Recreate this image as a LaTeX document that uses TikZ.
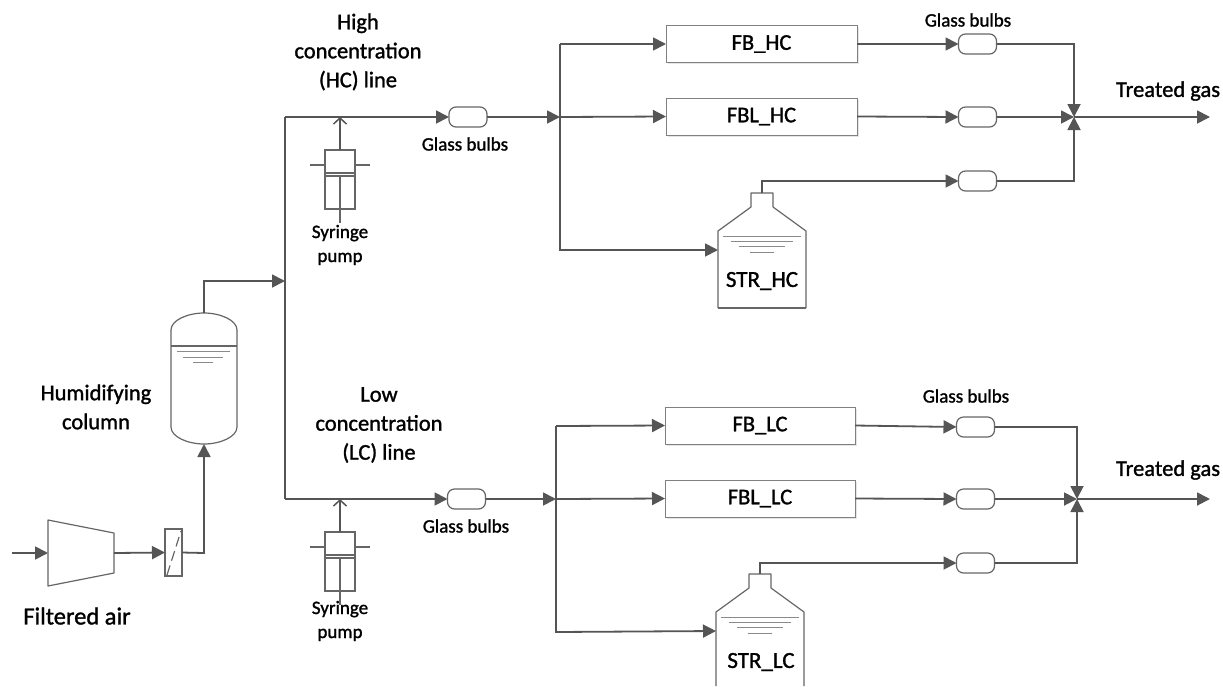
\documentclass[tikz,border=0pt]{standalone}
\usepackage{fontspec}
\setmainfont{Carlito}
\usetikzlibrary{arrows.meta,shadows,calc}
\definecolor{linec}{HTML}{555555}
\definecolor{shapec}{HTML}{666666}
\definecolor{boxc}{HTML}{808080}
\definecolor{liqc}{HTML}{8A8A8A}
\newfontfamily\labelfont[FakeBold=1.3]{Carlito}
\tikzset{
  flow/.style={draw=linec,line width=1.8pt,-{Stealth[inset=0pt,length=13pt,width=13pt]}},
  plainflow/.style={draw=linec,line width=1.8pt},
  vesselline/.style={draw=shapec,line width=1.2pt},
  liquid/.style={draw=liqc,line width=1pt},
  bulb/.style={draw=shapec,line width=1.2pt,fill=white,rounded corners=7pt,minimum width=38pt,minimum height=20pt,inner sep=0pt,outer sep=0pt},
  reactor/.style={draw=boxc,line width=1pt,fill=white,minimum width=191pt,minimum height=37pt,inner sep=0pt,outer sep=0pt,font=\labelfont\fontsize{22.5}{26}\selectfont,
    drop shadow={shadow xshift=1.5pt,shadow yshift=-1.5pt,opacity=.2}},
  big/.style={align=center,font=\labelfont\fontsize{22.5}{29}\selectfont,inner sep=0pt},
  small/.style={align=center,font=\labelfont\fontsize{19}{24}\selectfont,inner sep=0pt},
  sybody/.style={draw=shapec,line width=1.2pt,minimum width=30pt,minimum height=59pt,inner sep=0pt,outer sep=0pt},
  filterbox/.style={draw=shapec,line width=1.2pt,fill=white,minimum width=17pt,minimum height=47pt,inner sep=0pt,outer sep=0pt},
}
% name, centre x, top y of syringe body, y of line
\newcommand{\sypump}[3]{%
  \node[sybody] (#1) at (#2,{#3+29.5}) {};
  \draw[vesselline] ({#2-30},{#3+15}) -- ({#2-15},{#3+15});
  \draw[vesselline] ({#2+15},{#3+15}) -- ({#2+30},{#3+15});
  \draw[vesselline] ({#2-15},{#3+23}) -- ({#2+15},{#3+23});
  \draw[vesselline] ({#2-15},{#3+26}) -- ({#2+15},{#3+26});
  \draw[vesselline] (#2,{#3+26}) -- (#2,{#3+73});
}
% name, centre x, neck top y, bottom y
\newcommand{\vessel}[4]{%
  \draw[vesselline,line join=round] ({#2-44},#4) -- ({#2-44},{#3+38}) -- ({#2-11},{#3+14}) -- ({#2-11},#3) -- ({#2+11},#3) -- ({#2+11},{#3+14}) -- ({#2+44},{#3+38}) -- ({#2+44},#4);
  \draw[liquid] ({#2-39},{#3+43}) -- ({#2+39},{#3+43});
  \draw[liquid] ({#2-31},{#3+48}) -- ({#2+31},{#3+48});
  \draw[liquid] ({#2-23},{#3+53}) -- ({#2+23},{#3+53});
  \draw[liquid] ({#2-12},{#3+59}) -- ({#2+12},{#3+59});
  \coordinate (#1top) at (#2,#3);
  \coordinate (#1in) at ({#2-44},{#3+57});
}
\begin{document}
\begin{tikzpicture}[x=1pt,y=-1pt]
\useasboundingbox (0,0) rectangle (1223,686);
\fill[white] (0,0) rectangle (1223,686);

% ---- inlet: compressor, filter, column
\coordinate (airin) at (12,553);
\coordinate (compin) at (48,553);
\coordinate (compout) at (114,553);
\draw[vesselline,line join=round] (48,520) -- (114,533) -- (114,573) -- (48,586) -- cycle;
\node[filterbox] (filter) at (173.5,552.5) {};
\draw[vesselline,dash pattern=on 10pt off 5pt] (167,575) -- (181,531);
\draw[vesselline] (171,330) .. controls (171,320) and (188,313) .. (204,313) .. controls (220,313) and (237,320) .. (237,330) -- (237,427) .. controls (237,437) and (220,444) .. (204,444) .. controls (188,444) and (171,437) .. (171,427) -- cycle;
\draw[vesselline] (171,346) -- (237,346);
\draw[liquid] (177,351) -- (230,351);
\draw[liquid] (183,357) -- (223,357);
\draw[liquid] (193,362) -- (213,362);
\coordinate (coltop) at (204,313);
\coordinate (colbot) at (204,444);
\coordinate (split) at (285,281);
\coordinate (hcstart) at (285,117);
\coordinate (lcstart) at (285,499);

\draw[flow] (airin) -- (compin);
\draw[flow] (compout) -- (filter.west);
\draw[flow] (filter.east) -- (204,553) -- (colbot);
\draw[flow] (coltop) |- (split);
\draw[plainflow] (lcstart) -- (hcstart);

% ---- HC line
\sypump{syh}{340}{150}
\sypump{syl}{340}{532}
\node[bulb] (bh0) at (468,117) {};
\coordinate (nh) at (560,117);
\coordinate (nhtop) at (560,44);
\coordinate (nhbot) at (560,250);
\draw[flow] (hcstart) -- (bh0.west);
\draw[flow] (bh0.east) -- (nh);
\draw[draw=linec,line width=1.5pt,-{Straight Barb[length=6pt,width=13pt]}] (syh.north) -- (340,117);
\node[reactor] (fbh) at (761.5,44) {FB\_HC};
\node[reactor] (fblh) at (761.5,116.5) {FBL\_HC};
\vessel{strh}{762}{193}{308}
\draw[vesselline] (718,308) -- (806,308);
\node[font=\labelfont\fontsize{23}{26}\selectfont,inner sep=0pt] (strhlabel) at (762,281) {STR\_HC};
\draw[flow] (nhtop) -- (fbh.west);
\draw[flow] (nh) -- (fblh.west);
\draw[flow] (nhtop) -- (nh) -- (nhbot) -- (strhin);
\node[bulb] (bh1) at (977.5,44) {};
\node[bulb] (bh2) at (977.5,117) {};
\node[bulb] (bh3) at (977.5,181) {};
\coordinate (jh) at (1074,117);
\coordinate (outh) at (1210,117);
\draw[flow] (fbh.east) -- (bh1.west);
\draw[flow] (fblh.east) -- (bh2.west);
\draw[flow] (strhtop) |- (bh3.west);
\draw[flow] (bh1.east) -| (jh);
\draw[flow] (bh2.east) -- (jh);
\draw[flow] (bh3.east) -| (jh);
\draw[flow] (jh) -- (outh);

% ---- LC line
\node[bulb] (bl0) at (466.5,499) {};
\coordinate (nl) at (556,499);
\coordinate (nltop) at (556,426);
\coordinate (nlbot) at (556,632);
\draw[flow] (lcstart) -- (bl0.west);
\draw[flow] (bl0.east) -- (nl);
\draw[draw=linec,line width=1.5pt,-{Straight Barb[length=6pt,width=13pt]}] (syl.north) -- (340,499);
\node[reactor,minimum width=190pt] (fbl) at (760,425.5) {FB\_LC};
\node[reactor,minimum width=190pt] (fbll) at (760,498.5) {FBL\_LC};
\vessel{strl}{760}{574}{686}
\node[font=\labelfont\fontsize{23}{26}\selectfont,inner sep=0pt] (strllabel) at (761,662) {STR\_LC};
\draw[flow] (nltop) -- (fbl.west);
\draw[flow] (nl) -- (fbll.west);
\draw[flow] (nltop) -- (nl) -- (nlbot) -- (strlin);
\node[bulb] (bl1) at (975.5,427) {};
\node[bulb] (bl2) at (975.5,499) {};
\node[bulb] (bl3) at (975.5,563) {};
\coordinate (jl) at (1077,499);
\coordinate (outl) at (1210,499);
\draw[flow] (fbl.east) -- (bl1.west);
\draw[flow] (fbll.east) -- (bl2.west);
\draw[flow] (strltop) |- (bl3.west);
\draw[flow] (bl1.east) -| (jl);
\draw[flow] (bl2.east) -- (jl);
\draw[flow] (bl3.east) -| (jl);
\draw[flow] (jl) -- (outl);

% ---- labels
\node[big] (lhc) at (358,52) {High\\concentration\\(HC) line};
\node[big] (llc) at (379,425) {Low\\concentration\\(LC) line};
\node[big] (lhum) at (96,407) {Humidifying\\column};
\node[big,font=\labelfont\fontsize{24.5}{29}\selectfont] (lair) at (77,616) {Filtered air};
\node[big] (ltg1) at (1168,91) {Treated gas};
\node[big] (ltg2) at (1168,470) {Treated gas};
\node[small] (lgb0) at (465,144) {Glass bulbs};
\node[small] (lgb1) at (466,526) {Glass bulbs};
\node[small] (lgb2) at (968,20) {Glass bulbs};
\node[small] (lgb3) at (966,396) {Glass bulbs};
\node[small] (lsy1) at (340,245) {Syringe\\pump};
\node[small] (lsy2) at (340,621) {Syringe\\pump};
\end{tikzpicture}
\end{document}
